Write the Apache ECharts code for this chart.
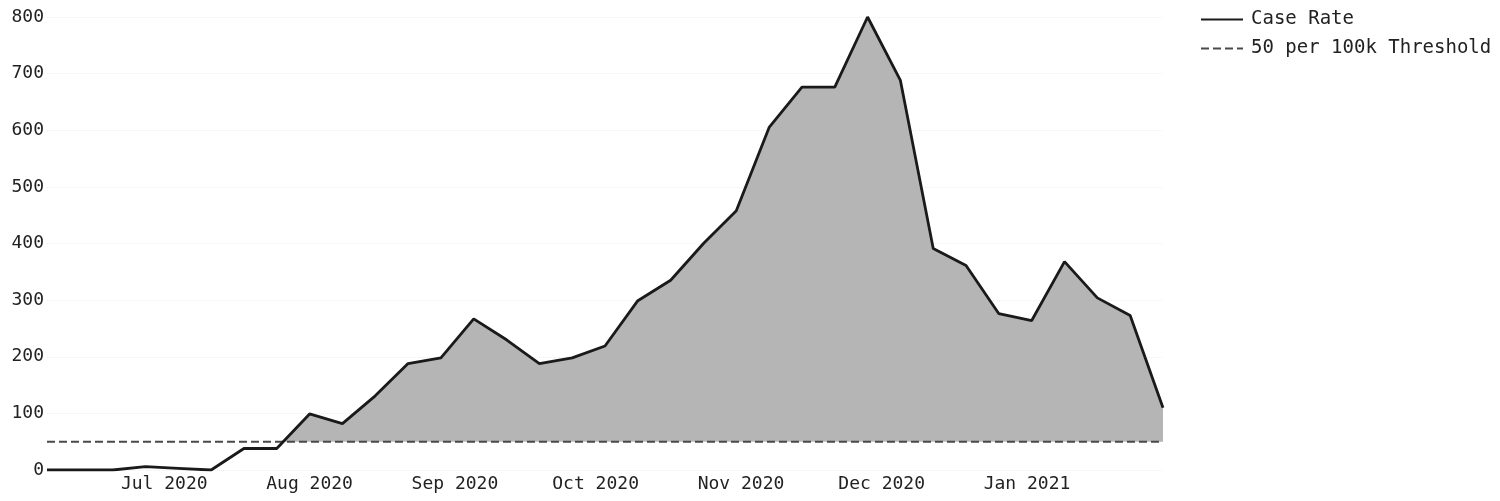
<!DOCTYPE html>
<html>
<head>
<meta charset="utf-8">
<script src="https://cdn.jsdelivr.net/npm/echarts@6/dist/echarts.min.js"></script>
<style>
html,body{margin:0;padding:0;background:#fff;}
#chart{width:1500px;height:501px;}
</style>
</head>
<body>
<div id="chart"></div>
<script>
// Weekly dates
const weeks = [
  '2020-06-06','2020-06-13','2020-06-20','2020-06-27',
  '2020-07-04','2020-07-11','2020-07-18','2020-07-25',
  '2020-08-01','2020-08-08','2020-08-15','2020-08-22','2020-08-29',
  '2020-09-05','2020-09-12','2020-09-19','2020-09-26',
  '2020-10-03','2020-10-10','2020-10-17','2020-10-24','2020-10-31',
  '2020-11-07','2020-11-14','2020-11-21','2020-11-28',
  '2020-12-05','2020-12-12','2020-12-19','2020-12-26',
  '2021-01-02','2021-01-09','2021-01-16','2021-01-23','2021-01-30'
];
// Case rate per 100k
const caseRate = [
  0, 0, 0, 6,
  3, 0, 38, 38,
  99, 82, 131, 188, 198,
  267, 230, 188, 198,
  219, 299, 335, 400, 458,
  605, 676, 676, 800,
  688, 391, 361, 276,
  264, 368, 304, 273, 110
];
// Threshold line (50 per 100k)
const threshold = [
  50, 50, 50, 50, 50, 50, 50, 50, 50, 50,
  50, 50, 50, 50, 50, 50, 50, 50, 50, 50,
  50, 50, 50, 50, 50, 50, 50, 50, 50, 50,
  50, 50, 50, 50, 50
];
const monthNames = ['Jan','Feb','Mar','Apr','May','Jun','Jul','Aug','Sep','Oct','Nov','Dec'];
const yTicks = [0, 100, 200, 300, 400, 500, 600, 700, 800];
const legendNames = ['Case Rate', '50 per 100k Threshold'];

const FONT = 'DejaVu Sans Mono';
const DAY = 24 * 3600 * 1000;

const chart = echarts.init(document.getElementById('chart'), null, {renderer: 'canvas'});
chart.setOption({
  animation: false,
  backgroundColor: '#ffffff',
  grid: {left: 47, right: 337, top: 17, bottom: 31, containLabel: false},
  legend: {
    orient: 'vertical',
    left: 1195,
    top: 5,
    itemWidth: 42,
    itemHeight: 18,
    itemGap: 10,
    data: legendNames,
    itemStyle: {opacity: 0},
    textStyle: {fontFamily: FONT, fontSize: 19, color: '#222', padding: [0, 0, 0, 3]}
  },
  xAxis: {
    type: 'time',
    min: weeks[0],
    max: weeks[weeks.length - 1],
    splitNumber: 8,
    minInterval: 28 * DAY,
    maxInterval: 31 * DAY,
    axisLine: {show: false},
    axisTick: {show: false},
    splitLine: {show: false},
    axisLabel: {
      fontFamily: FONT,
      fontSize: 18,
      color: '#222',
      margin: 5,
      hideOverlap: false,
      formatter: function (v) {
        const d = new Date(v);
        if (d.getDate() !== 1) return '';
        return monthNames[d.getMonth()] + ' ' + d.getFullYear();
      }
    }
  },
  yAxis: {
    type: 'value',
    min: yTicks[0],
    max: yTicks[yTicks.length - 1],
    interval: 100,
    axisLine: {show: false},
    axisTick: {show: false},
    splitLine: {show: true, lineStyle: {color: '#efefef', type: 'dotted', width: 1}},
    axisLabel: {fontFamily: FONT, fontSize: 18, color: '#222', margin: 3}
  },
  series: [
    {
      name: 'fill',
      type: 'line',
      z: 2,
      data: weeks.map((w, i) => [w, caseRate[i]]),
      symbol: 'none',
      lineStyle: {width: 0, opacity: 0},
      areaStyle: {color: '#b5b5b5', opacity: 1, origin: 'start'},
      silent: true
    },
    {
      name: '50 per 100k Threshold',
      type: 'line',
      z: 3,
      data: weeks.map((w, i) => [w, threshold[i]]),
      symbol: 'none',
      lineStyle: {color: '#4a4a4a', width: 2, type: [8, 4]},
      itemStyle: {color: '#4a4a4a'},
      areaStyle: {color: '#ffffff', opacity: 1, origin: 'start'},
      silent: true
    },
    {
      name: 'Case Rate',
      type: 'line',
      z: 4,
      data: weeks.map((w, i) => [w, caseRate[i]]),
      symbol: 'none',
      lineStyle: {color: '#1a1a1a', width: 2.8},
      itemStyle: {color: '#1a1a1a'},
      silent: true
    }
  ]
});
</script>
</body>
</html>
